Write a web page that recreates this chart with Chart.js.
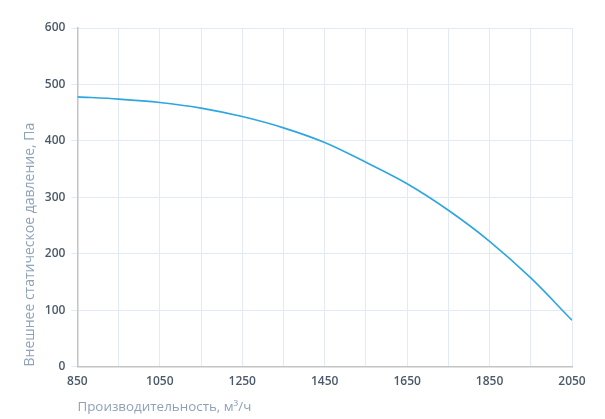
<!DOCTYPE html>
<html><head><meta charset="utf-8">
<script src="https://cdn.jsdelivr.net/npm/chart.js@4"></script>
<style>html,body{margin:0;padding:0;background:#fff}#wrap{width:605px;height:419px}</style>
</head><body><div id="wrap"><canvas id="c" width="605" height="419"></canvas></div>
<script>
const flowRates = [850, 950, 1050, 1150, 1250, 1350, 1450, 1550, 1650, 1750, 1850, 1950, 2050];
const pressures = [478, 474, 468, 458, 443, 423, 397, 362, 324, 277, 222, 157, 82];
const xTitle = 'Производительность, м³/ч';
const yTitle = 'Внешнее статическое давление, Па';

const tickColor = '#4b5a6b';
const titleColor = '#8ea2b8';
const gridColor = '#e2eaf5';

new Chart(document.getElementById('c'), {
  type: 'line',
  data: {
    datasets: [{
      data: flowRates.map((x, i) => ({x, y: pressures[i]})),
      borderColor: '#2ea6e0',
      borderWidth: 1.6,
      pointRadius: 0,
      cubicInterpolationMode: 'monotone',
      fill: false
    }]
  },
  options: {
    responsive: false,
    animation: false,
    layout: {padding: {left: 7, right: 33, top: 28, bottom: 4}},
    plugins: {legend: {display: false}, tooltip: {enabled: false}},
    scales: {
      x: {
        type: 'linear', min: 850, max: 2050,
        ticks: {
          stepSize: 100, autoSkip: false, maxRotation: 0,
          color: tickColor, font: {family: 'Open Sans', size: 12, weight: '600'},
          padding: 8,
          callback: v => ((v - 850) % 200 === 0 ? String(v) : '')
        },
        grid: {color: gridColor, drawTicks: false},
        border: {color: '#c4c4c4', width: 1.5},
        title: {display: true, text: xTitle, align: 'start', color: titleColor,
          font: {family: 'Open Sans', size: 13.4}, padding: {top: 2, bottom: 0}}
      },
      y: {
        min: 0, max: 600,
        ticks: {stepSize: 100, color: tickColor, font: {family: 'Open Sans', size: 12, weight: '600'}, padding: 6},
        grid: {color: gridColor, tickLength: 6},
        border: {color: '#c4c4c4', width: 1.5},
        title: {display: true, text: yTitle, align: 'start', color: titleColor,
          font: {family: 'Open Sans', size: 14}, padding: {top: 15, bottom: 0}}
      }
    }
  }
});
</script></body></html>
